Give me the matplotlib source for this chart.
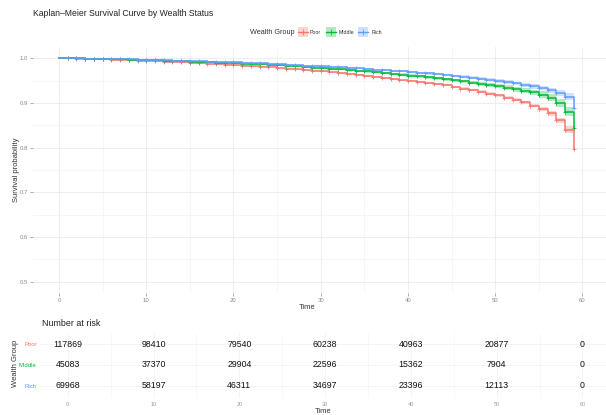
import matplotlib
matplotlib.use("Agg")
import matplotlib.pyplot as plt
from matplotlib.patches import Rectangle
from matplotlib.lines import Line2D

plt.rcParams['font.family'] = ['Liberation Sans', 'DejaVu Sans']

# ---------------- data ----------------
times = list(range(60))
poor = [1.0000, 0.9995, 0.9990, 0.9984, 0.9978, 0.9972, 0.9965, 0.9958, 0.9951, 0.9944,
        0.9937, 0.9929, 0.9921, 0.9913, 0.9904, 0.9895, 0.9886, 0.9876, 0.9866, 0.9855,
        0.9844, 0.9833, 0.9821, 0.9808, 0.9795, 0.9781, 0.9767, 0.9752, 0.9736, 0.9720,
        0.9703, 0.9685, 0.9666, 0.9646, 0.9625, 0.9603, 0.9580, 0.9556, 0.9531, 0.9505,
        0.9500, 0.9470, 0.9450, 0.9420, 0.9390, 0.9360, 0.9320, 0.9290, 0.9250, 0.9210,
        0.9170, 0.9120, 0.9070, 0.9010, 0.8940, 0.8870, 0.8770, 0.8610, 0.8400, 0.7970]
middle = [1.0000, 0.9997, 0.9993, 0.9989, 0.9985, 0.9981, 0.9976, 0.9971, 0.9966, 0.9961,
          0.9956, 0.9950, 0.9944, 0.9938, 0.9932, 0.9925, 0.9918, 0.9911, 0.9903, 0.9895,
          0.9887, 0.9878, 0.9869, 0.9859, 0.9849, 0.9838, 0.9827, 0.9815, 0.9803, 0.9790,
          0.9780, 0.9766, 0.9751, 0.9736, 0.9720, 0.9703, 0.9686, 0.9668, 0.9650, 0.9631,
          0.9612, 0.9592, 0.9571, 0.9550, 0.9528, 0.9505, 0.9481, 0.9456, 0.9430, 0.9403,
          0.9374, 0.9343, 0.9310, 0.9274, 0.9234, 0.9188, 0.9120, 0.9000, 0.8800, 0.8440]
rich = [1.0000, 0.9997, 0.9994, 0.9991, 0.9987, 0.9983, 0.9979, 0.9975, 0.9971, 0.9966,
        0.9961, 0.9956, 0.9951, 0.9945, 0.9939, 0.9933, 0.9927, 0.9920, 0.9913, 0.9906,
        0.9905, 0.9898, 0.9890, 0.9882, 0.9873, 0.9864, 0.9854, 0.9844, 0.9834, 0.9825,
        0.9815, 0.9805, 0.9794, 0.9783, 0.9771, 0.9759, 0.9746, 0.9733, 0.9719, 0.9705,
        0.9690, 0.9674, 0.9658, 0.9641, 0.9623, 0.9604, 0.9584, 0.9563, 0.9541, 0.9517,
        0.9492, 0.9465, 0.9436, 0.9404, 0.9369, 0.9330, 0.9285, 0.9225, 0.9140, 0.8880]
# confidence-band half widths
ci_poor = [0.0000, 0.0002, 0.0002, 0.0003, 0.0003, 0.0003, 0.0004, 0.0004, 0.0004, 0.0005,
           0.0005, 0.0005, 0.0006, 0.0006, 0.0006, 0.0007, 0.0007, 0.0007, 0.0008, 0.0008,
           0.0008, 0.0009, 0.0009, 0.0010, 0.0010, 0.0010, 0.0011, 0.0011, 0.0012, 0.0012,
           0.0013, 0.0013, 0.0014, 0.0014, 0.0015, 0.0015, 0.0016, 0.0017, 0.0017, 0.0018,
           0.0019, 0.0020, 0.0021, 0.0022, 0.0023, 0.0024, 0.0025, 0.0027, 0.0028, 0.0030,
           0.0032, 0.0034, 0.0036, 0.0039, 0.0042, 0.0046, 0.0052, 0.0060, 0.0075, 0.0120]
ci_middle = [0.0000, 0.0002, 0.0003, 0.0004, 0.0004, 0.0005, 0.0005, 0.0006, 0.0006, 0.0007,
             0.0007, 0.0008, 0.0008, 0.0009, 0.0009, 0.0010, 0.0010, 0.0011, 0.0011, 0.0012,
             0.0012, 0.0013, 0.0013, 0.0014, 0.0015, 0.0015, 0.0016, 0.0017, 0.0017, 0.0018,
             0.0019, 0.0020, 0.0021, 0.0022, 0.0023, 0.0024, 0.0025, 0.0026, 0.0027, 0.0028,
             0.0029, 0.0030, 0.0032, 0.0033, 0.0035, 0.0037, 0.0039, 0.0041, 0.0043, 0.0046,
             0.0049, 0.0052, 0.0056, 0.0060, 0.0065, 0.0071, 0.0078, 0.0088, 0.0100, 0.0140]
ci_rich = [0.0000, 0.0002, 0.0002, 0.0003, 0.0003, 0.0004, 0.0004, 0.0005, 0.0005, 0.0005,
           0.0006, 0.0006, 0.0007, 0.0007, 0.0007, 0.0008, 0.0008, 0.0009, 0.0009, 0.0010,
           0.0010, 0.0010, 0.0011, 0.0011, 0.0012, 0.0012, 0.0013, 0.0013, 0.0014, 0.0014,
           0.0015, 0.0016, 0.0016, 0.0017, 0.0018, 0.0018, 0.0019, 0.0020, 0.0021, 0.0022,
           0.0023, 0.0024, 0.0025, 0.0026, 0.0027, 0.0028, 0.0030, 0.0031, 0.0033, 0.0035,
           0.0037, 0.0039, 0.0042, 0.0045, 0.0048, 0.0052, 0.0057, 0.0064, 0.0074, 0.0110]

groups = ["Poor", "Middle", "Rich"]
colors = ["#F8766D", "#00BA38", "#619CFF"]
risk_times = [0, 10, 20, 30, 40, 50, 60]
risk_poor = [117869, 98410, 79540, 60238, 40963, 20877, 0]
risk_middle = [45083, 37370, 29904, 22596, 15362, 7904, 0]
risk_rich = [69968, 58197, 46311, 34697, 23396, 12113, 0]
y_ticks = [0.5, 0.6, 0.7, 0.8, 0.9, 1.0]

series = [poor, middle, rich]
cis = [ci_poor, ci_middle, ci_rich]
risks = [risk_poor, risk_middle, risk_rich]

W, H = 606, 415
fig = plt.figure(figsize=(W / 100, H / 100), dpi=100)
fig.patch.set_facecolor("white")

def fx(p):
    return p / W

def fy(p):
    return 1 - p / H

grid_c = "#EBEBEB"
tick_c = "#8C8C8C"

# ---------------- main panel ----------------
L, R, T, B = 33, 606, 47, 293
ax = fig.add_axes([fx(L), fy(B), fx(R - L), (B - T) / H])
ax.set_xlim(-2.98, 62.7)
ax.set_ylim(0.475, 1.025)
ax.set_xticks(risk_times)
ax.set_xticks([5, 15, 25, 35, 45, 55], minor=True)
ax.set_yticks(y_ticks)
ax.set_yticks([0.55, 0.65, 0.75, 0.85, 0.95], minor=True)
ax.set_yticklabels([f"{v:.1f}" for v in y_ticks])
ax.grid(True, which="major", color=grid_c, lw=0.6)
ax.grid(True, which="minor", color="#F3F3F3", lw=0.5)
ax.set_axisbelow(True)
for s in ax.spines.values():
    s.set_visible(False)
ax.tick_params(which="major", length=2, width=0.5, color=tick_c, labelsize=4.3,
               labelcolor="#8A8A8A", pad=1.5)
ax.tick_params(which="minor", length=0)

for vals, ci, col in zip(series, cis, colors):
    lo = [v - c for v, c in zip(vals, ci)]
    hi = [v + c for v, c in zip(vals, ci)]
    ax.fill_between(times, lo, hi, step="post", color=col, alpha=0.3, lw=0)
    ax.step(times, vals, where="post", color=col, lw=1.1)
    ax.plot(times[1:], vals[1:], ls="none", marker="+", ms=3, mew=0.6, color=col)

ax.set_xlabel("Time", fontsize=5.5, color="#333333", labelpad=0)
ax.xaxis.set_label_coords((307 - L) / (R - L), -(307 - B) / (B - T), transform=ax.transAxes)
ax.xaxis.label.set_va("center")
ax.set_ylabel("Survival probability", fontsize=5.5, color="#333333")
ax.yaxis.set_label_coords(-(L - 17) / (R - L), (B - 170) / (B - T), transform=ax.transAxes)
ax.yaxis.label.set_va("center")

# ---------------- title & legend ----------------
fig.text(fx(33), fy(13), "Kaplan\u2013Meier Survival Curve by Wealth Status",
         fontsize=6.2, color="#222222", ha="left", va="center")
fig.text(fx(250), fy(32), "Wealth Group", fontsize=5.2, color="#333333",
         ha="left", va="center")
key_x = [303, 331, 363]
lab_x = [310, 339, 372]
for name, col, kx, lx in zip(groups, colors, key_x, lab_x):
    fig.add_artist(Rectangle((fx(kx - 5), fy(37)), 10 / W, 10 / H,
                             transform=fig.transFigure, facecolor=col, alpha=0.3, lw=0))
    fig.add_artist(Line2D([fx(kx - 5), fx(kx + 5)], [fy(32), fy(32)],
                          transform=fig.transFigure, color=col, lw=1.0))
    fig.add_artist(Line2D([fx(kx)], [fy(32)], transform=fig.transFigure, color=col,
                          marker="+", ms=4, mew=0.6, ls="none"))
    fig.text(fx(lx), fy(32), name, fontsize=3.8, color="#333333", ha="left", va="center")

# ---------------- risk table ----------------
tL, tR, tT, tB = 40, 606, 333, 398
tax = fig.add_axes([fx(tL), fy(tB), fx(tR - tL), (tB - tT) / H])
tax.set_xlim(-3.23, 62.74)
tax.set_ylim(0.4, 3.55)
tax.set_xticks(risk_times)
tax.set_xticks([5, 15, 25, 35, 45, 55], minor=True)
tax.set_yticks([3, 2, 1])
tax.set_yticklabels(groups)
for lab, col in zip(tax.get_yticklabels(), colors):
    lab.set_color(col)
tax.grid(True, which="major", color="#F0F0F0", lw=0.5)
tax.grid(True, which="minor", color="#F5F5F5", lw=0.5)
tax.set_axisbelow(True)
for s in tax.spines.values():
    s.set_visible(False)
tax.tick_params(axis="y", length=0, labelsize=4.3, pad=2.5)
tax.tick_params(axis="x", which="major", length=0, labelsize=4.0, labelcolor="#9A9A9A", pad=3)
tax.tick_params(which="minor", length=0)
for row, risk in zip([3, 2, 1], risks):
    for t, n in zip(risk_times, risk):
        tax.text(t, row, str(n), fontsize=6.3, color="#111111", ha="center", va="center")
tax.set_xlabel("Time", fontsize=5.5, color="#333333")
tax.xaxis.set_label_coords(0.5, -(411 - tB) / (tB - tT), transform=tax.transAxes)
tax.xaxis.label.set_va("center")
tax.set_ylabel("Wealth Group", fontsize=5.5, color="#333333")
tax.yaxis.set_label_coords(-(tL - 16) / (tR - tL), (tB - 363) / (tB - tT), transform=tax.transAxes)
tax.yaxis.label.set_va("center")
fig.text(fx(42), fy(323), "Number at risk", fontsize=6.4, color="#222222",
         ha="left", va="center")

fig.savefig("out.png", dpi=100, facecolor="white")
